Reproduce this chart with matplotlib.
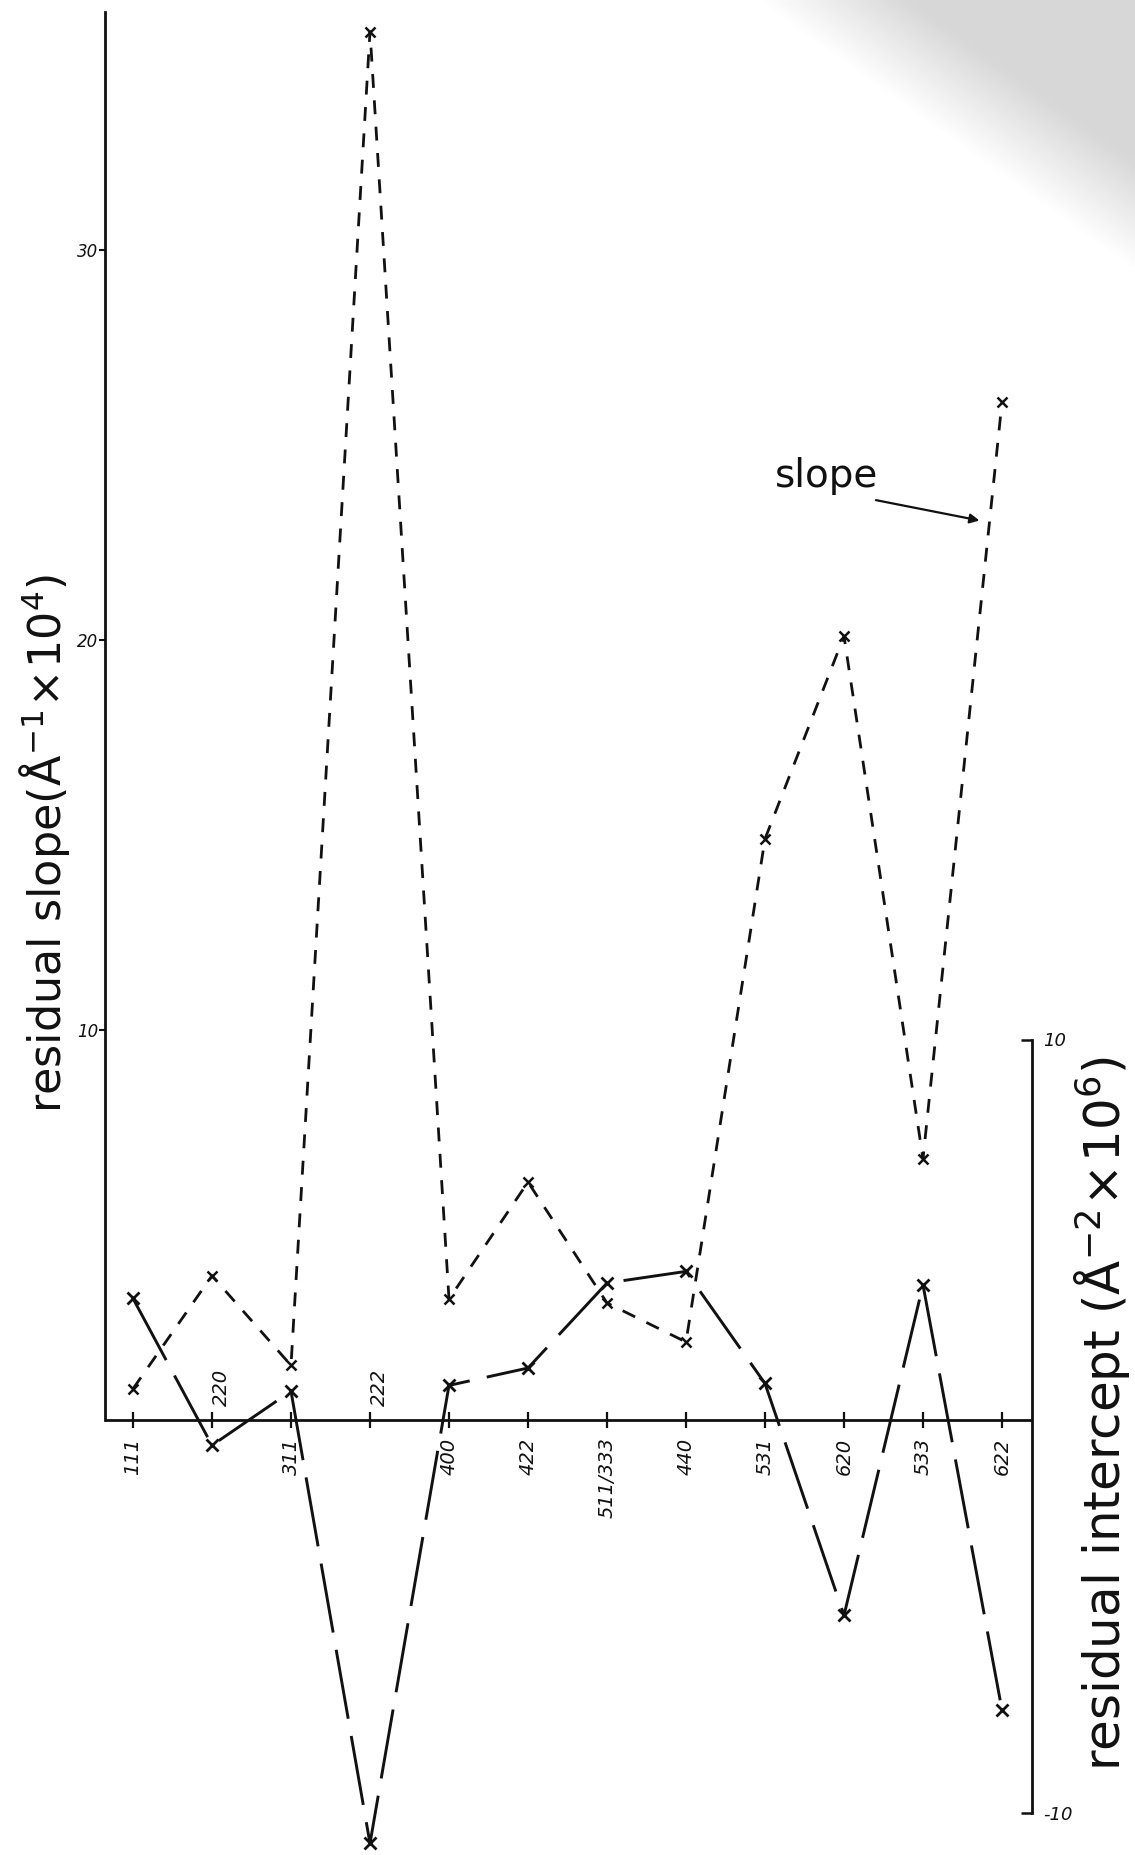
import numpy as np
import matplotlib
matplotlib.use("Agg")
import matplotlib.pyplot as plt

# Reflections (hkl) along the horizontal axis
categories = ["111", "220", "311", "222", "400", "422",
              "511/333", "440", "531", "620", "533", "622"]
# residual slope, units of 1e-4 per angstrom
slope = [0.8, 3.7, 1.4, 35.6, 3.1, 6.1, 3.0, 2.0, 14.9, 20.1, 6.7, 26.1]
# residual intercept, units of 1e-6 per angstrom^2
intercept = [3.3, -0.5, 0.9, -10.8, 1.05, 1.5, 3.7, 4.0, 1.1, -4.9, 3.65, -7.35]
# labels written above the zero line
labels_above = ["220", "222"]
slope_ticks = [10, 20, 30]
intercept_ticks = [10, -10]

plt.rcParams["mathtext.fontset"] = "dejavusans"

INK = "#111111"
LETTER = dict(family=["DejaVu Sans"], weight="normal", color=INK)
HAND = dict(family=["DejaVu Sans"], style="italic", color=INK)

fig = plt.figure(figsize=(11.35, 18.55), dpi=100)
fig.patch.set_facecolor("white")

# greyish scanned paper edge in the upper right corner
bg = fig.add_axes([0, 0, 1, 1], zorder=-5)
bg.axis("off")
H, W = 371, 227
yy, xx = np.mgrid[0:H, 0:W]
px = xx / W * 1135.0
py = yy / H * 1855.0
t = (px - 757.0) / 378.0 - py / 270.0
a = np.clip(t * 2.5, 0, 1) * 0.28
rgba = np.zeros((H, W, 4))
rgba[..., :3] = 0.45
rgba[..., 3] = a
bg.imshow(rgba, extent=[0, 1, 0, 1], origin="upper", aspect="auto",
          interpolation="bilinear")

ax = fig.add_axes([105 / 1135, 0.0, (1032 - 105) / 1135, (1855 - 12) / 1855])
ax.set_facecolor("none")
ax2 = ax.twinx()

x = np.arange(len(categories))
ax.set_xlim((105 - 133) / 79, (1032 - 133) / 79)
ax.set_ylim(-(1855 - 1420) / 39, (1420 - 12) / 39)
ax2.set_ylim(-(1855 - 1426) / 38.65, (1426 - 12) / 38.65)

# slope: short dashes
ax.plot(x, slope, color=INK, lw=2.0, linestyle=(0, (5, 4.5)),
        marker="x", markersize=7, markeredgewidth=1.8, zorder=3)
# intercept: long dashes
ax2.plot(x, intercept, color=INK, lw=2.1, linestyle=(0, (24, 6)),
         marker="x", markersize=9, markeredgewidth=2.0, zorder=3)

# spines
for s in ["top", "bottom", "right"]:
    ax.spines[s].set_visible(False)
for s in ["top", "bottom", "left"]:
    ax2.spines[s].set_visible(False)
ax.spines["left"].set_linewidth(2.0)
ax.spines["left"].set_color(INK)
ax.spines["left"].set_bounds(0, (1420 - 12) / 39)
ax2.spines["right"].set_linewidth(2.0)
ax2.spines["right"].set_color(INK)
ax2.spines["right"].set_bounds(-10, 10)

# zero line carrying the reflections
ax.axhline(0, color=INK, lw=2.0, zorder=2)
ax.vlines(x, -0.2, 0.2, color=INK, lw=1.6, zorder=2)

ax.set_xticks([])
ax.set_yticks(slope_ticks)
ax.set_yticklabels([str(v) for v in slope_ticks], fontsize=12, **HAND)
ax.tick_params(axis="y", direction="out", length=4, width=1.5, color=INK, pad=1)

ax2.set_yticks(intercept_ticks)
ax2.set_yticklabels([str(v) for v in intercept_ticks], fontsize=13, **HAND)
ax2.tick_params(axis="y", direction="in", length=8, width=1.8, color=INK, pad=8)

# reflection labels
for xi, lab in zip(x, categories):
    if lab in labels_above:
        ax.text(xi + 0.12, 0.35, lab, rotation=90, ha="center", va="bottom",
                fontsize=14, **HAND)
    else:
        ax.text(xi, -0.45, lab, rotation=90, ha="center", va="top",
                fontsize=14, **HAND)

# axis titles
fig.text(0.039, 0.545, r"residual slope($\mathrm{\AA}^{-1}\!\times\!10^{4}$)",
         rotation=90, ha="center", va="center", fontsize=32, **LETTER)
fig.text(0.971, 0.238, r"residual intercept ($\mathrm{\AA}^{-2}\!\times\!10^{6}$)",
         rotation=90, ha="center", va="center", fontsize=36, **LETTER)

# annotation for the slope curve
ax.text(8.12, 24.2, "slope", ha="left", va="center", fontsize=28, **LETTER)
ax.annotate("", xy=(10.75, 23.05), xytext=(9.37, 23.6),
            arrowprops=dict(arrowstyle="-|>", color=INK, lw=1.6,
                            mutation_scale=14))

fig.savefig("out.png", dpi=100)
